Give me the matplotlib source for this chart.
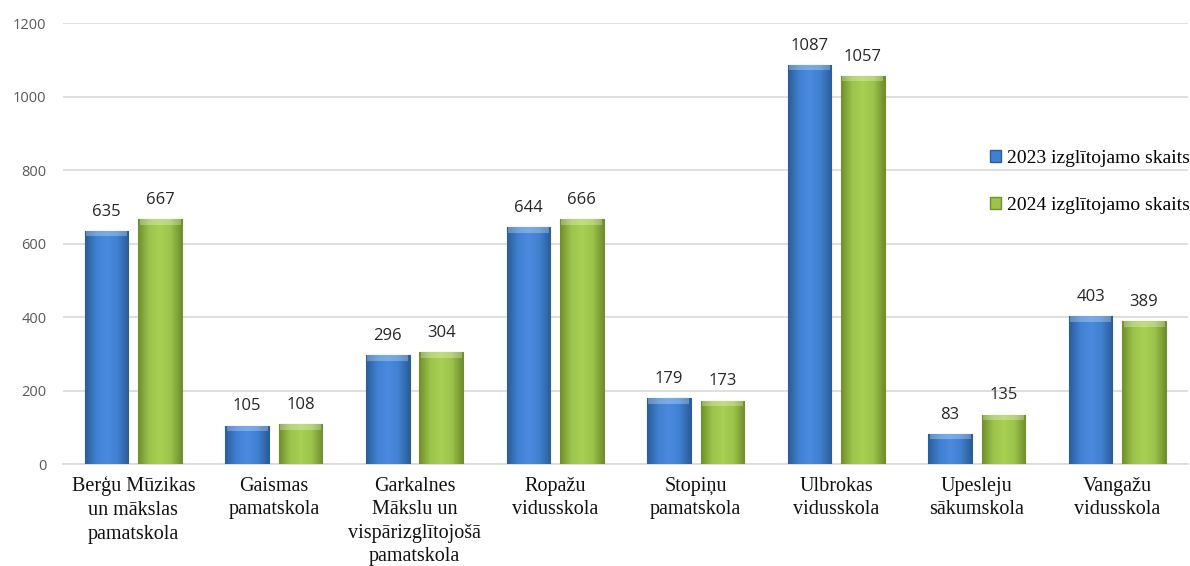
import numpy as np
import matplotlib
matplotlib.use('Agg')
import matplotlib.pyplot as plt
from matplotlib.colors import LinearSegmentedColormap

schools = ['Berģu Mūzikas\nun mākslas\npamatskola', 'Gaismas\npamatskola',
           'Garkalnes\nMākslu un\nvispārizglītojošā\npamatskola', 'Ropažu\nvidusskola',
           'Stopiņu\npamatskola', 'Ulbrokas\nvidusskola', 'Upesleju\nsākumskola',
           'Vangažu\nvidusskola']
y2023 = [635, 105, 296, 644, 179, 1087, 83, 403]
y2024 = [667, 108, 304, 666, 173, 1057, 135, 389]
series_names = ['2023 izglītojamo skaits', '2024 izglītojamo skaits']
yticks = [0, 200, 400, 600, 800, 1000, 1200]

# colours: edge-dark, middle, light
blue = ['#2b5d99', '#3f80d0', '#4a8be0']
green = ['#6f8f2c', '#9cc34b', '#a8d052']

fig = plt.figure(figsize=(11.9, 5.66), dpi=100)
ax = fig.add_axes([0.053, 0.180, 0.945, 0.779])

x = np.arange(len(schools))
w = 0.31
off = 0.19


def grad_bars(xpos, vals, cols, label):
    bars = ax.bar(xpos, vals, width=w, color=cols[1], edgecolor=cols[0],
                  linewidth=0.8, label=label, zorder=3)
    cmap = LinearSegmentedColormap.from_list('g', [cols[0], cols[1], cols[2], cols[1], cols[0]])
    grad = np.linspace(0, 1, 64).reshape(1, -1)
    for b in bars:
        x0, y0 = b.get_x(), b.get_y()
        bw, bh = b.get_width(), b.get_height()
        im = ax.imshow(grad, extent=[x0, x0 + bw, y0, y0 + bh], aspect='auto',
                       cmap=cmap, zorder=3.5, interpolation='bilinear')
        im.set_clip_path(b)
        # light bevel on top
        bev = min(15, bh * 0.3)
        ax.bar(x0 + bw / 2, bev, bottom=y0 + bh - bev, width=bw * 0.94,
               color='white', alpha=0.28, linewidth=0, zorder=4)
        ax.annotate(str(int(bh)), (x0 + bw / 2, y0 + bh), xytext=(0, 8),
                    textcoords='offset points', ha='center', va='bottom',
                    fontsize=12, color='#262626', family='Open Sans')
    return bars


grad_bars(x - off, y2023, blue, series_names[0])
grad_bars(x + off, y2024, green, series_names[1])

ax.set_xlim(-0.5, len(schools) - 0.5)
ax.set_ylim(0, 1200)
ax.set_yticks(yticks)
ax.tick_params(axis='y', length=0, pad=12, labelsize=10.5, labelcolor='#595959')
for t in ax.get_yticklabels():
    t.set_family('Open Sans')
ax.set_xticks(x)
ax.set_xticklabels(schools, fontsize=14.5, family='Liberation Serif',
                   color='#111111', linespacing=1.33)
ax.tick_params(axis='x', length=0, pad=9)
ax.yaxis.grid(True, color='#d9d9d9', linewidth=1.2, zorder=0)
ax.set_axisbelow(True)
for s in ['top', 'right', 'left']:
    ax.spines[s].set_visible(False)
ax.spines['bottom'].set_color('#d9d9d9')
ax.spines['bottom'].set_linewidth(1.2)

handles = [plt.Rectangle((0, 0), 1, 1, facecolor=blue[1], edgecolor=blue[0]),
           plt.Rectangle((0, 0), 1, 1, facecolor=green[1], edgecolor=green[0])]
fig.legend(handles, series_names, loc='upper left', bbox_to_anchor=(0.832, 0.735),
           frameon=False, prop={'family': 'Liberation Serif', 'size': 14},
           handlelength=0.55, handleheight=0.55, handletextpad=0.3,
           labelspacing=1.55, borderaxespad=0, borderpad=0)

fig.savefig('out.png', dpi=100)
